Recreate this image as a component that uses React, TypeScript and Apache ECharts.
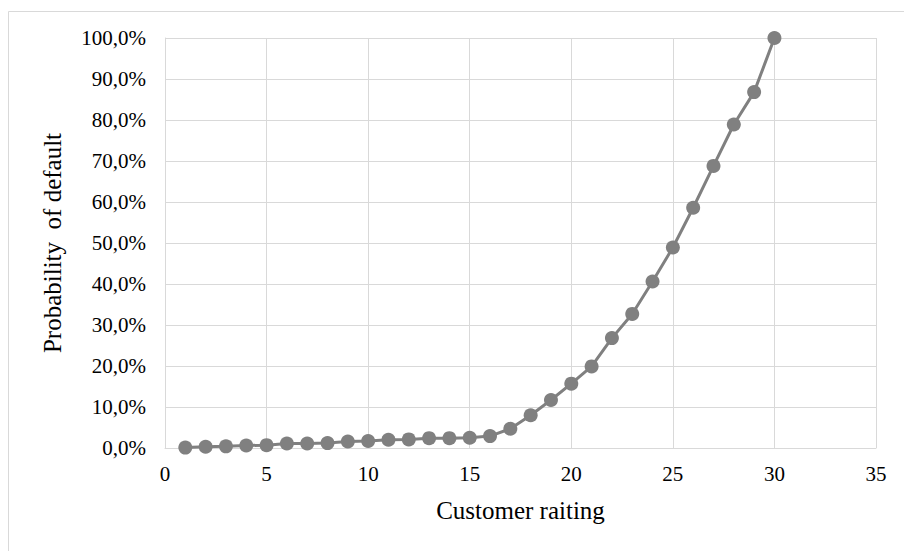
import React, { useEffect, useRef } from "react";
import * as echarts from "echarts";

const ratings = [1,2,3,4,5,6,7,8,9,10,11,12,13,14,15,16,17,18,19,20,21,22,23,24,25,26,27,28,29,30];
const pd = [0.1,0.3,0.4,0.6,0.7,1.1,1.1,1.2,1.6,1.7,2.0,2.1,2.4,2.4,2.5,2.9,4.7,8.0,11.7,15.7,19.9,26.8,32.7,40.6,48.9,58.6,68.8,78.9,86.8,100];
const xTitle = "Customer raiting";
const yTitle = "Probability  of default";

export default function App() {
  const ref = useRef<HTMLDivElement>(null);
  useEffect(() => {
    if (!ref.current) return;
    const chart = echarts.init(ref.current, null, { renderer: "svg" });
    const font = "'Liberation Serif', 'Times New Roman', serif";
    chart.setOption({
      animation: false,
      backgroundColor: "#ffffff",
      graphic: [
        {
          type: "rect",
          shape: { x: 8.5, y: 11.5, width: 1000, height: 1000 },
          style: { fill: "none", stroke: "#d9d9d9", lineWidth: 1 },
          silent: true,
        },
      ],
      grid: { left: 165, top: 38, width: 711, height: 410, containLabel: false },
      xAxis: {
        type: "value",
        min: 0,
        max: 35,
        interval: 5,
        name: xTitle,
        nameLocation: "middle",
        nameGap: 50,
        nameTextStyle: { fontFamily: font, fontSize: 25, color: "#000000" },
        axisLine: { show: true, lineStyle: { color: "#d9d9d9", width: 1 } },
        axisTick: { show: false },
        axisLabel: { fontFamily: font, fontSize: 21, color: "#000000", margin: 15 },
        splitLine: { show: true, lineStyle: { color: "#d9d9d9", width: 1 } },
      },
      yAxis: {
        type: "value",
        min: 0,
        max: 100,
        interval: 10,
        name: yTitle,
        nameLocation: "middle",
        nameGap: 100,
        nameRotate: 90,
        nameTextStyle: { fontFamily: font, fontSize: 25, color: "#000000" },
        axisLine: { show: true, lineStyle: { color: "#d9d9d9", width: 1 } },
        axisTick: { show: false },
        axisLabel: {
          fontFamily: font,
          fontSize: 21,
          color: "#000000",
          margin: 19,
          formatter: (v: number) => v.toFixed(1).replace(".", ",") + "%",
        },
        splitLine: { show: true, lineStyle: { color: "#d9d9d9", width: 1 } },
      },
      series: [
        {
          type: "line",
          data: ratings.map((r, i) => [r, pd[i]]),
          symbol: "circle",
          symbolSize: 14,
          itemStyle: { color: "#808080" },
          lineStyle: { color: "#808080", width: 3 },
        },
      ],
    });
    return () => chart.dispose();
  }, []);
  return (
    <div
      ref={ref}
      style={{ position: "fixed", left: 0, top: 0, width: 904, height: 551, background: "#fff" }}
    />
  );
}
